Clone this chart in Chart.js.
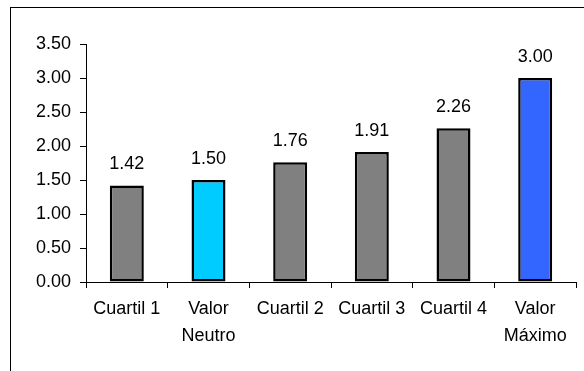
<!DOCTYPE html>
<html>
<head>
<meta charset="utf-8">
<script src="https://cdn.jsdelivr.net/npm/chart.js@4/dist/chart.umd.min.js"></script>
<style>
  html, body { margin: 0; padding: 0; background: #fff; }
  #wrap { position: relative; width: 584px; height: 371px; }
</style>
</head>
<body>
<div id="wrap"><canvas id="c" width="584" height="371"></canvas></div>
<script>
// Categories (multi-line where the label wraps)
const categories = [
  'Cuartil 1',
  ['Valor', 'Neutro'],
  'Cuartil 2',
  'Cuartil 3',
  'Cuartil 4',
  ['Valor', 'Máximo']
];
// Values per category
const values = [1.42, 1.50, 1.76, 1.91, 2.26, 3.00];
// Bar fill per category
const barColors = ['#808080', '#00CCFF', '#808080', '#808080', '#808080', '#3366FF'];
// Y axis tick values
const yTicks = [0, 0.5, 1, 1.5, 2, 2.5, 3, 3.5];

const FONT = 'Liberation Sans, Arial, sans-serif';

// Outer frame around the whole chart
const framePlugin = {
  id: 'frame',
  beforeDraw(chart) {
    const ctx = chart.ctx;
    ctx.save();
    ctx.strokeStyle = '#000';
    ctx.lineWidth = 1;
    ctx.strokeRect(10.5, 7.5, 700, 500);
    ctx.restore();
  }
};

// Value labels above each bar
const valueLabels = {
  id: 'valueLabels',
  afterDatasetsDraw(chart) {
    const ctx = chart.ctx;
    const meta = chart.getDatasetMeta(0);
    ctx.save();
    ctx.fillStyle = '#000';
    ctx.font = '18px ' + FONT;
    ctx.textAlign = 'center';
    ctx.textBaseline = 'alphabetic';
    meta.data.forEach((bar, i) => {
      ctx.fillText(values[i].toFixed(2), bar.x, bar.y - 16);
    });
    ctx.restore();
  }
};

new Chart(document.getElementById('c'), {
  type: 'bar',
  data: {
    labels: categories,
    datasets: [{
      data: values,
      backgroundColor: barColors,
      borderColor: '#000',
      borderWidth: 2.5,
      borderSkipped: false,
      categoryPercentage: 1,
      barPercentage: 0.416
    }]
  },
  options: {
    responsive: false,
    animation: false,
    events: [],
    layout: { padding: { left: 0, right: 8, top: 44, bottom: 0 } },
    plugins: {
      legend: { display: false },
      tooltip: { enabled: false }
    },
    scales: {
      x: {
        grid: {
          offset: true,
          drawOnChartArea: false,
          drawTicks: true,
          tickLength: 6,
          color: '#000',
          lineWidth: 1
        },
        border: { display: true, color: '#000', width: 1 },
        ticks: {
          color: '#000',
          font: { family: FONT, size: 18, lineHeight: 1.5 },
          padding: 8,
          maxRotation: 0,
          autoSkip: false
        },
        afterFit(scale) { scale.height = 89; }
      },
      y: {
        min: 0,
        max: 3.5,
        afterBuildTicks(scale) {
          scale.ticks = yTicks.map(v => ({ value: v }));
        },
        grid: {
          drawOnChartArea: false,
          drawTicks: true,
          tickLength: 6,
          color: '#000',
          lineWidth: 1
        },
        border: { display: true, color: '#000', width: 1 },
        ticks: {
          color: '#000',
          font: { family: FONT, size: 18 },
          padding: 9,
          callback: v => Number(v).toFixed(2)
        },
        afterFit(scale) { scale.width = 86; }
      }
    }
  },
  plugins: [framePlugin, valueLabels]
});
</script>
</body>
</html>
